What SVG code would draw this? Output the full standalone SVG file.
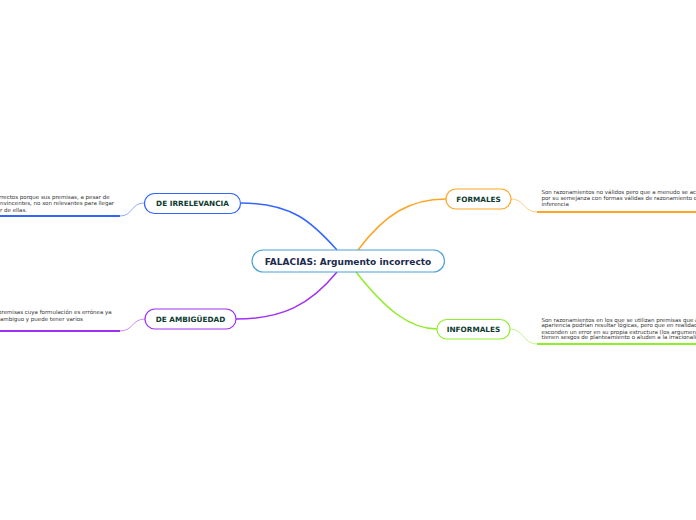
<svg xmlns="http://www.w3.org/2000/svg" width="696" height="520" viewBox="0 0 696 520">
<style>
.node{fill:#ffffff;stroke-width:1.2}
.lbl{font-family:"DejaVu Sans",Verdana,sans-serif;font-weight:bold;font-size:7.3px;fill:#0d3b2e;text-anchor:middle}
.main{font-family:"DejaVu Sans",Verdana,sans-serif;font-weight:bold;font-size:9px;fill:#1b2a4e;text-anchor:middle}
.leaf{font-family:"DejaVu Sans",Verdana,sans-serif;font-size:5.5px;fill:#333333}
.con{fill:none;stroke-width:1.5}
.sub{fill:none;stroke-width:1;opacity:0.55}
.ul{fill:none;stroke-width:2}
</style>
<rect width="696" height="520" fill="#ffffff"/>
<g id="connectors">
<path class="con" d="M241,203 C292,203 312,222 337,250" stroke="#3366ff"/>
<path class="con" d="M358,250 C385,214 410,199 446,199" stroke="#ffa526"/>
<path class="con" d="M337,272 C310,305 282,319 236,319" stroke="#a030f5"/>
<path class="con" d="M356,272 C386,310 410,329 437,329" stroke="#8fee2a"/>
<path class="sub" d="M120,216 C133,216 131,203 144,203" stroke="#3366ff"/>
<path class="sub" d="M120,331 C133,331 132,319 145,319" stroke="#a030f5"/>
<path class="sub" d="M511,199 C525,199 523,212 537,212" stroke="#ffa526"/>
<path class="sub" d="M510,329 C524,329 523,344 537,344" stroke="#8fee2a"/>
</g>
<g id="root">
<rect class="node" x="252" y="250" width="192.5" height="22" rx="11" stroke="#4a9fd8"/>
<text class="main" x="348" y="264.5">FALACIAS: Argumento incorrecto</text>
</g>
<g id="irrelevancia">
<rect class="node" x="144.5" y="193.5" width="96" height="20" rx="10" stroke="#3366ff"/>
<text class="lbl" x="192.5" y="206.1">DE IRRELEVANCIA</text>
</g>
<g id="ambiguedad">
<rect class="node" x="145" y="309" width="91" height="20" rx="10" stroke="#a030f5"/>
<text class="lbl" x="190.5" y="321.6">DE AMBIGÜEDAD</text>
</g>
<g id="formales">
<rect class="node" x="446" y="189" width="65" height="20" rx="10" stroke="#ffa526"/>
<text class="lbl" x="478.5" y="201.6">FORMALES</text>
</g>
<g id="informales">
<rect class="node" x="437" y="319.5" width="73" height="19.5" rx="9.75" stroke="#8fee2a"/>
<text class="lbl" x="473.5" y="331.9">INFORMALES</text>
</g>
<g id="leaf-irrelevancia">
<text class="leaf" x="-1" y="198.5">rrectos porque sus premisas, a pesar de</text>
<text class="leaf" x="0" y="205">nvincentes, no son relevantes para llegar</text>
<text class="leaf" x="0" y="211.5">r de ellas.</text>
<path class="ul" d="M0,216 H120" stroke="#3366ff"/>
</g>
<g id="leaf-ambiguedad">
<text class="leaf" x="-2" y="314">premisas cuya formulación es errónea ya</text>
<text class="leaf" x="0" y="320.5">ambiguo y puede tener varios</text>
<path class="ul" d="M0,331 H120" stroke="#a030f5"/>
</g>
<g id="leaf-formales">
<text class="leaf" x="541.5" y="193.5">Son razonamientos no válidos pero que a menudo se ac</text>
<text class="leaf" x="541.5" y="199.8">por su semejanza con formas válidas de razonamiento o</text>
<text class="leaf" x="541.5" y="206.1">inferencia</text>
<path class="ul" d="M537,212 H696" stroke="#ffa526"/>
</g>
<g id="leaf-informales">
<text class="leaf" x="541.5" y="321.5">Son razonamientos en los que se utilizan premisas que a</text>
<text class="leaf" x="541.5" y="327.3">apariencia podrían resultar lógicas, pero que en realidad</text>
<text class="leaf" x="541.5" y="333.6">esconden un error en su propia estructura (los argumen</text>
<text class="leaf" x="541.5" y="339.3">tienen sesgos de planteamiento o aluden a la irracionali</text>
<path class="ul" d="M537,344 H696" stroke="#8fee2a"/>
</g>
</svg>
